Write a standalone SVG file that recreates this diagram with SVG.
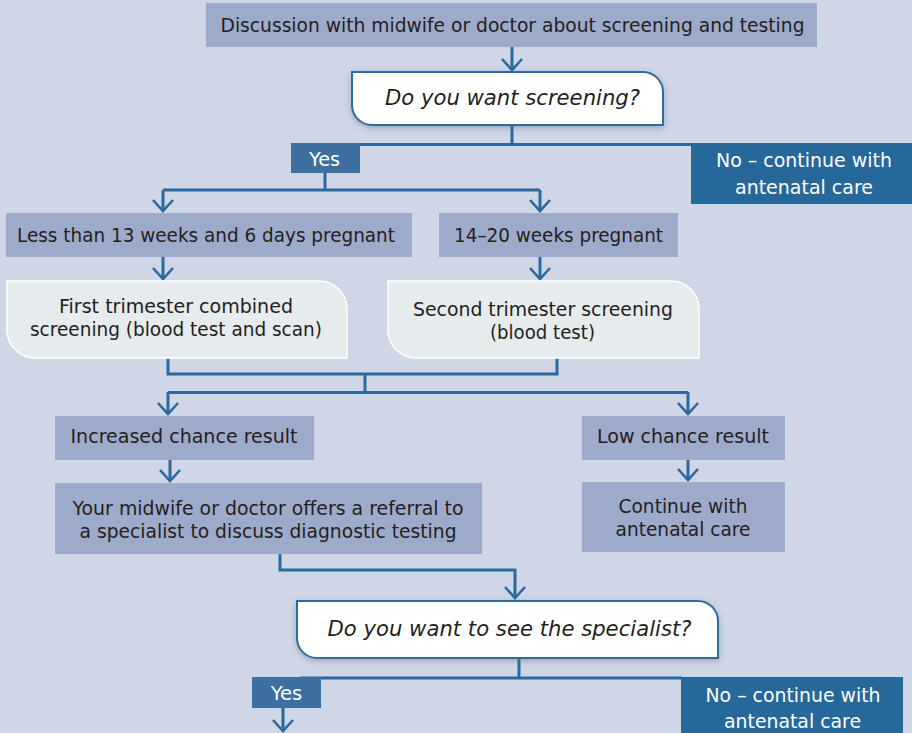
<svg xmlns="http://www.w3.org/2000/svg" width="912" height="733" viewBox="0 0 912 733">
<defs>
<style>
.bg{fill:#cfd6e6}
.box{fill:#9dabca}
.yes{fill:#3d70a0}
.no{fill:#256899}
.q{fill:#ffffff;stroke:#2e6d9e;stroke-width:2}
.tri{fill:#e6ebee;stroke:#ffffff;stroke-width:1.5}
.t{font-family:"DejaVu Sans","Liberation Sans",sans-serif;font-size:19px;fill:#231f20;text-anchor:middle}
.w{fill:#ffffff}
.qi{font-style:italic;font-size:21.5px}
.c{fill:none;stroke:#2a6a9c;stroke-width:3}
.a{marker-end:url(#arr)}
</style>
<marker id="arr" viewBox="-14 -12 16 24" markerWidth="16" markerHeight="24" refX="0" refY="0" orient="auto" markerUnits="userSpaceOnUse">
<path d="M-11,-10 L0,0 L-11,10" fill="none" stroke="#2a6a9c" stroke-width="2.6"/>
</marker>
<filter id="sh" x="-10%" y="-30%" width="120%" height="160%">
<feDropShadow dx="0" dy="2" stdDeviation="3" flood-color="#5a6a8a" flood-opacity="0.45"/>
</filter>
</defs>
<rect class="bg" x="0" y="0" width="912" height="733"/>

<g id="connectors">
<path class="c a" d="M512,47 V70"/>
<path class="c" d="M512,125 V144.5 M330,144.5 H692"/>
<path class="c" d="M325,173 V190 M163,190 H540"/>
<path class="c a" d="M163,190 V211"/>
<path class="c a" d="M540,190 V211"/>
<path class="c a" d="M163,257 V279"/>
<path class="c a" d="M540,257 V279"/>
<path class="c" d="M168,358 V374 H557 V358 M365,374 V392.5 M168,392.5 H688"/>
<path class="c a" d="M168,392 V414"/>
<path class="c a" d="M688,392 V414"/>
<path class="c a" d="M170,460 V481"/>
<path class="c a" d="M688,460 V480"/>
<path class="c a" d="M280,554 V570 H515 V598"/>
<path class="c" d="M519,658 V678 M300,678 H682"/>
<path class="c a" d="M283,708 V731"/>
</g>

<g id="n-discussion">
<rect class="box" x="206" y="3" width="611" height="44"/>
<text class="t" x="512.5" y="32" textLength="584" lengthAdjust="spacingAndGlyphs">Discussion with midwife or doctor about screening and testing</text>
</g>

<g id="n-q-screening">
<path class="q" filter="url(#sh)" d="M352,72 H643 A20,20 0 0 1 663,92 V125 H372 A20,20 0 0 1 352,105 Z"/>
<text class="t qi" x="512.5" y="105" textLength="255" lengthAdjust="spacingAndGlyphs">Do you want screening?</text>
</g>

<g id="n-yes1">
<rect class="yes" x="291" y="143" width="69" height="30"/>
<text class="t w" x="324.5" y="166" textLength="31" lengthAdjust="spacingAndGlyphs">Yes</text>
</g>

<g id="n-no1">
<rect class="no" x="691" y="143" width="221" height="61"/>
<text class="t w" x="804" y="167" textLength="176" lengthAdjust="spacingAndGlyphs">No – continue with</text>
<text class="t w" x="804" y="193.5" textLength="138" lengthAdjust="spacingAndGlyphs">antenatal care</text>
</g>

<g id="n-less13">
<rect class="box" x="6" y="213" width="406" height="44"/>
<text class="t" x="206" y="242" textLength="378" lengthAdjust="spacingAndGlyphs">Less than 13 weeks and 6 days pregnant</text>
</g>

<g id="n-14-20">
<rect class="box" x="439" y="213" width="239" height="44"/>
<text class="t" x="558.5" y="242" textLength="209" lengthAdjust="spacingAndGlyphs">14–20 weeks pregnant</text>
</g>

<g id="n-first-trimester">
<path class="tri" d="M7,281 H319 A28,28 0 0 1 347,309 V358 H35 A28,28 0 0 1 7,330 Z"/>
<text class="t" x="176" y="313" textLength="234" lengthAdjust="spacingAndGlyphs">First trimester combined</text>
<text class="t" x="176" y="336" textLength="292" lengthAdjust="spacingAndGlyphs">screening (blood test and scan)</text>
</g>

<g id="n-second-trimester">
<path class="tri" d="M388,281 H671 A28,28 0 0 1 699,309 V358 H416 A28,28 0 0 1 388,330 Z"/>
<text class="t" x="543" y="316" textLength="260" lengthAdjust="spacingAndGlyphs">Second trimester screening</text>
<text class="t" x="542.5" y="339" textLength="105" lengthAdjust="spacingAndGlyphs">(blood test)</text>
</g>

<g id="n-increased">
<rect class="box" x="55" y="416" width="259" height="44"/>
<text class="t" x="184" y="443" textLength="227" lengthAdjust="spacingAndGlyphs">Increased chance result</text>
</g>

<g id="n-low">
<rect class="box" x="582" y="416" width="203" height="44"/>
<text class="t" x="683" y="443" textLength="172" lengthAdjust="spacingAndGlyphs">Low chance result</text>
</g>

<g id="n-referral">
<rect class="box" x="55" y="483" width="427" height="71"/>
<text class="t" x="268" y="515" textLength="391" lengthAdjust="spacingAndGlyphs">Your midwife or doctor offers a referral to</text>
<text class="t" x="268" y="538" textLength="377" lengthAdjust="spacingAndGlyphs">a specialist to discuss diagnostic testing</text>
</g>

<g id="n-continue">
<rect class="box" x="582" y="482" width="203" height="70"/>
<text class="t" x="683" y="513" textLength="129" lengthAdjust="spacingAndGlyphs">Continue with</text>
<text class="t" x="683" y="536" textLength="135" lengthAdjust="spacingAndGlyphs">antenatal care</text>
</g>

<g id="n-q-specialist">
<path class="q" filter="url(#sh)" d="M297,601 H698 A20,20 0 0 1 718,621 V658 H317 A20,20 0 0 1 297,638 Z"/>
<text class="t qi" x="509.5" y="636" textLength="364" lengthAdjust="spacingAndGlyphs">Do you want to see the specialist?</text>
</g>

<g id="n-yes2">
<rect class="yes" x="252" y="677" width="69" height="31"/>
<text class="t w" x="286.5" y="700" textLength="31.5" lengthAdjust="spacingAndGlyphs">Yes</text>
</g>

<g id="n-no2">
<rect class="no" x="681" y="677" width="222" height="60"/>
<text class="t w" x="793" y="702" textLength="175" lengthAdjust="spacingAndGlyphs">No – continue with</text>
<text class="t w" x="792.5" y="728" textLength="137" lengthAdjust="spacingAndGlyphs">antenatal care</text>
</g>
</svg>
